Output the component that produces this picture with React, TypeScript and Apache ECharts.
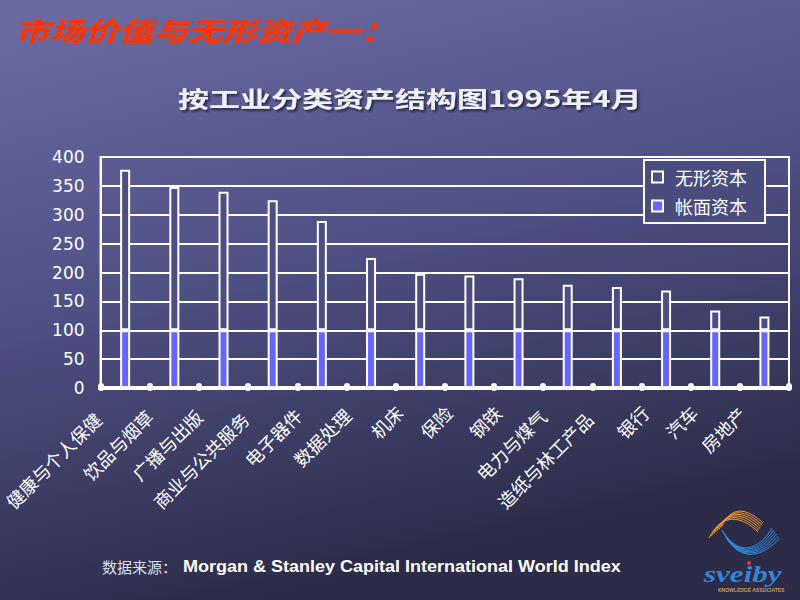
import React, { useEffect, useRef } from 'react';
import * as echarts from 'echarts';

const categories = [
  '健康与个人保健', '饮品与烟草', '广播与出版', '商业与公共服务', '电子器件', '数据处理', '机床',
  '保险', '钢铁', '电力与煤气', '造纸与林工产品', '银行', '汽车', '房地产',
];
const intangibleCapital = [278, 248, 240, 225, 189, 125, 98, 95, 90, 79, 75, 69, 34, 24];
const bookCapital = [100, 100, 100, 100, 100, 100, 100, 100, 100, 100, 100, 100, 100, 100];
const seriesNames = ['无形资本', '帐面资本'];
const yMin = 0;
const yMax = 400;
const yStep = 50;
const titleText = '市场价值与无形资产一：';
const subtitleText = '按工业分类资产结构图1995年4月';
const sourceLabel = '数据来源：';
const sourceText = 'Morgan & Stanley Capital International World Index';
const logoText = 'sveiby';
const logoSubText = 'KNOWLEDGE ASSOCIATES';

const WHITE = '#ffffff';
const DARK_BAR = '#4e4f80';
const BLUE_BAR = '#6666ff';
const CJK = '"Noto Sans CJK SC", "Noto Sans", sans-serif';

// shift rotated (45deg) category labels so they sit left/below the tick like the reference
function labelPadding(n: number): number[] {
  const dx = -16 - 2.6 * n;
  const dy = 21;
  const a = (dx - dy) / Math.SQRT2;
  const b = (dx + dy) / Math.SQRT2;
  const pr = Math.max(0, -a);
  const pt = b > 0 ? 2 * b : 0;
  const pb = b < 0 ? -2 * b : 0;
  return [pt, pr, pb, 0];
}

function buildLogo(): any[] {
  const els: any[] = [];
  for (let i = 0; i < 6; i++) {
    els.push({
      type: 'bezierCurve',
      shape: {
        x1: 709 + i * 2.5, y1: 538 - i * 2.2,
        cpx1: 722 + i * 2, cpy1: 512 - i * 1.5,
        cpx2: 742 + i, cpy2: 516 - i * 1.5,
        x2: 758 + i, y2: 532 - i * 1.8,
      },
      style: { stroke: '#f39a2a', lineWidth: 1, fill: null },
      silent: true, z: 10,
    });
    els.push({
      type: 'bezierCurve',
      shape: {
        x1: 722 + i, y1: 530 + i * 1.8,
        cpx1: 737 + i, cpy1: 556 + i * 1.2,
        cpx2: 758 + i, cpy2: 552 + i,
        x2: 772 + i * 1.5, y2: 528 + i * 2,
      },
      style: { stroke: '#2f8fe0', lineWidth: 1, fill: null },
      silent: true, z: 10,
    });
  }
  els.push({
    type: 'text', x: 704, y: 574, scaleX: 1.35, z: 10, silent: true,
    style: {
      text: logoText, fill: '#2f86d6', fontSize: 23, fontWeight: 'bold', fontStyle: 'italic',
      fontFamily: '"Liberation Serif", "DejaVu Serif", serif',
      align: 'left', verticalAlign: 'middle', textAlign: 'left', textVerticalAlign: 'middle',
    },
  });
  els.push({
    type: 'circle', shape: { cx: 749, cy: 563, r: 2 }, style: { fill: '#e23b2b' }, z: 11, silent: true,
  });
  els.push({
    type: 'text', x: 718, y: 590, z: 10, silent: true,
    style: {
      text: logoSubText, fill: '#c99a5a', fontSize: 5, fontWeight: 'bold',
      fontFamily: '"Liberation Sans", sans-serif',
      align: 'left', verticalAlign: 'middle', textAlign: 'left', textVerticalAlign: 'middle',
    },
  });
  return els;
}

function buildOption(): any {
  return {
    animation: false,
    backgroundColor: {
      type: 'linear', x: 0, y: 0, x2: 0.3, y2: 1,
      colorStops: [
        { offset: 0, color: '#6a6ca3' },
        { offset: 0.5, color: '#4f5084' },
        { offset: 1, color: '#2c2c49' },
      ],
    },
    grid: {
      left: 100, right: 11, top: 157, bottom: 212,
      show: true, borderColor: WHITE, borderWidth: 2, backgroundColor: 'transparent',
    },
    legend: {
      orient: 'vertical',
      left: 644, top: 160,
      backgroundColor: '#4b4c7e',
      borderColor: WHITE, borderWidth: 2, borderRadius: 0,
      padding: [8, 6, 8, 7],
      itemWidth: 11, itemHeight: 11, itemGap: 11,
      icon: 'rect',
      textStyle: {
        color: WHITE, fontSize: 18, fontFamily: CJK, lineHeight: 18,
        width: 84, padding: [0, 0, 0, 7],
      },
      data: [
        { name: seriesNames[0], itemStyle: { color: DARK_BAR, borderColor: WHITE, borderWidth: 2 } },
        { name: seriesNames[1], itemStyle: { color: BLUE_BAR, borderColor: WHITE, borderWidth: 2 } },
      ],
    },
    xAxis: {
      type: 'category',
      data: categories.map((c) => ({ value: c, textStyle: { padding: labelPadding(c.length) } })),
      axisLine: { show: true, lineStyle: { color: WHITE, width: 4 } },
      axisTick: { show: true, inside: true, length: 2, lineStyle: { color: WHITE, width: 6, cap: 'round' } },
      axisLabel: {
        interval: 0, rotate: 45, margin: 0, color: WHITE, fontSize: 18, fontFamily: CJK,
      },
      splitLine: { show: false },
    },
    yAxis: {
      type: 'value', min: yMin, max: yMax, interval: yStep,
      axisLine: { show: true, lineStyle: { color: WHITE, width: 2 } },
      axisTick: { show: false },
      axisLabel: { color: WHITE, fontSize: 17, fontFamily: '"DejaVu Sans", sans-serif', margin: 16, padding: [0, 0, 4, 0] },
      splitLine: { show: true, lineStyle: { color: WHITE, width: 2 } },
    },
    series: [
      {
        name: seriesNames[1], type: 'bar', stack: 'total', barWidth: 10,
        data: bookCapital,
        itemStyle: { color: BLUE_BAR, borderColor: WHITE, borderWidth: 2 },
      },
      {
        name: seriesNames[0], type: 'bar', stack: 'total', barWidth: 10,
        data: intangibleCapital,
        itemStyle: { color: DARK_BAR, borderColor: WHITE, borderWidth: 2 },
      },
    ],
    graphic: [
      {
        type: 'text', x: 15, y: 30, scaleX: 1.33, z: 10, silent: true,
        style: {
          text: titleText, fill: '#ff3300', fontSize: 26, fontWeight: 'bold', fontStyle: 'italic',
          fontFamily: CJK, align: 'left', verticalAlign: 'middle', textAlign: 'left', textVerticalAlign: 'middle',
          textShadowColor: 'rgba(255,60,0,0.6)', textShadowBlur: 3,
        },
      },
      {
        type: 'text', x: 178, y: 98, scaleX: 1.41, z: 10, silent: true,
        style: {
          text: subtitleText, fill: '#f0f0f8', fontSize: 22, fontWeight: 'bold',
          fontFamily: CJK, align: 'left', verticalAlign: 'middle', textAlign: 'left', textVerticalAlign: 'middle',
          textShadowColor: 'rgba(20,20,40,0.7)', textShadowBlur: 2, textShadowOffsetX: 2, textShadowOffsetY: 2,
        },
      },
      {
        type: 'text', x: 102, y: 566, z: 10, silent: true,
        style: {
          text: sourceLabel, fill: '#dedef0', fontSize: 15, fontFamily: CJK,
          align: 'left', verticalAlign: 'middle', textAlign: 'left', textVerticalAlign: 'middle',
        },
      },
      {
        type: 'text', x: 183, y: 566, scaleX: 1.06, z: 10, silent: true,
        style: {
          text: sourceText, fill: '#ffffff', fontSize: 17, fontWeight: 'bold',
          fontFamily: '"Liberation Sans", Arial, sans-serif',
          align: 'left', verticalAlign: 'middle', textAlign: 'left', textVerticalAlign: 'middle',
        },
      },
      ...buildLogo(),
    ],
  };
}

export default function App() {
  const ref = useRef<HTMLDivElement>(null);
  useEffect(() => {
    if (!ref.current) return;
    const chart = echarts.init(ref.current, null, { renderer: 'svg' });
    chart.setOption(buildOption());
    return () => chart.dispose();
  }, []);
  return (
    <div
      ref={ref}
      style={{ position: 'fixed', left: 0, top: 0, width: 800, height: 600 }}
    />
  );
}
